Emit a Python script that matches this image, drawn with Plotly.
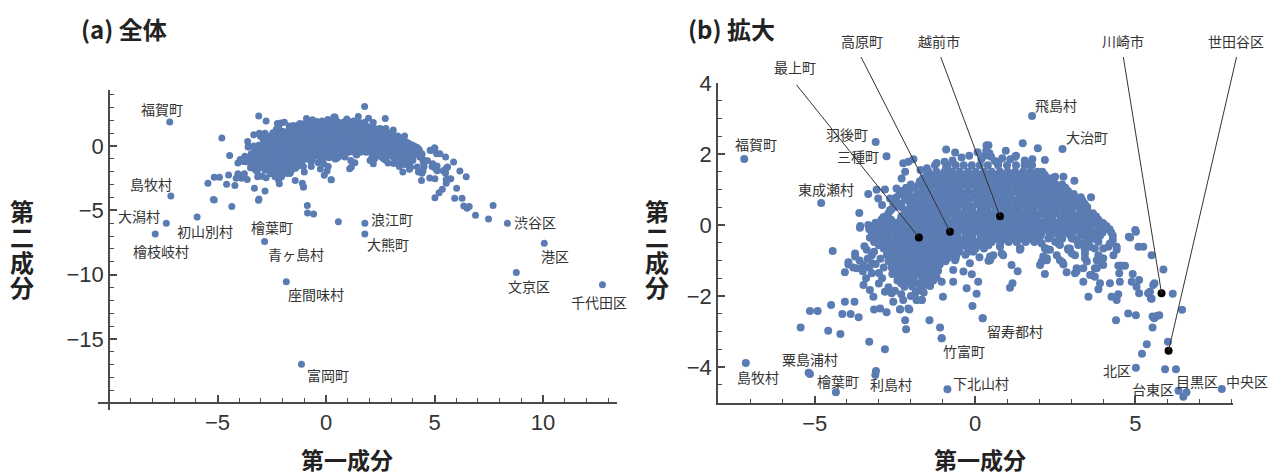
import plotly.graph_objects as go

# ---- municipalities: first and second principal component ----
ROW_PC2 = [1.68, 1.5, 1.32, 1.14, 0.96, 0.78, 0.6, 0.42, 0.24, 0.06, -0.12, -0.3, -0.48, -0.66, -0.84, -1.02, -1.2, -1.38, -1.56, -1.74]
ROW_PC1 = [
 [-0.85,-0.6,-0.35,-0.1,0.15,0.4,0.72,1.0,1.28,1.55,1.78],
 [-1.45,-1.2,-0.95,-0.72,-0.48,-0.22,0.02,0.28,0.52,0.78,1.02,1.25,1.5,1.72,1.95,2.1],
 [-1.62,-1.38,-1.15,-0.9,-0.68,-0.42,-0.18,0.08,0.3,0.58,0.82,1.08,1.3,1.55,1.78,2.0,2.22,2.38],
 [-2.0,-1.75,-1.5,-1.28,-1.02,-0.8,-0.55,-0.32,-0.08,0.18,0.42,0.65,0.9,1.15,1.38,1.62,1.85,2.08,2.3,2.52,2.72],
 [-2.3,-2.05,-1.65,-1.4,-1.15,-0.92,-0.7,-0.45,-0.2,0.05,0.28,0.52,0.78,1.0,1.25,1.5,1.72,1.98,2.2,2.42,2.65,2.9],
 [-2.45,-2.2,-1.92,-1.72,-1.5,-1.25,-1.02,-0.8,-0.55,-0.32,-0.08,0.15,0.4,0.65,0.88,1.12,1.38,1.6,1.85,2.08,2.32,2.55,2.78,3.02,3.3],
 [-2.55,-2.3,-2.02,-1.82,-1.6,-1.38,-1.12,-0.9,-0.65,-0.42,-0.2,0.05,0.28,0.52,0.75,1.0,1.25,1.48,1.72,1.95,2.2,2.42,2.68,2.92,3.15,3.42],
 [-2.62,-2.1,-1.9,-1.72,-1.48,-1.25,-1.0,-0.78,-0.55,-0.3,-0.08,0.18,0.4,0.65,0.88,1.12,1.35,1.6,1.82,2.08,2.3,2.55,2.78,3.02,3.28,3.5],
 [-2.8,-2.3,-2.05,-1.82,-1.6,-1.35,-1.12,-0.9,-0.65,-0.42,-0.18,0.05,0.3,0.52,0.78,1.0,1.25,1.48,1.72,1.95,2.2,2.42,2.68,2.9,3.15,3.38,3.6,3.78],
 [-3.1,-2.78,-2.48,-2.18,-1.95,-1.72,-1.48,-1.25,-1.0,-0.78,-0.55,-0.3,-0.08,0.18,0.4,0.65,0.88,1.12,1.35,1.6,1.82,2.08,2.3,2.55,2.78,3.02,3.25,3.5,3.72,3.95],
 [-3.3,-3.05,-2.8,-2.55,-2.3,-2.05,-1.82,-1.6,-1.35,-1.12,-0.9,-0.65,-0.42,-0.18,0.05,0.3,0.52,0.78,1.0,1.25,1.48,1.72,1.95,2.2,2.42,2.65,2.9,3.12,3.38,3.6,3.85,4.05,4.2],
 [-3.2,-2.95,-2.68,-2.42,-2.18,-1.95,-1.72,-1.48,-1.25,-1.0,-0.78,-0.55,-0.3,-0.08,0.18,0.4,0.65,0.88,1.12,1.35,1.6,1.82,2.05,2.35,2.62,3.0,3.32,3.62,3.9,4.3],
 [-3.15,-2.88,-2.62,-2.35,-2.1,-1.85,-1.6,-1.38,-1.12,-0.9,-0.65,-0.42,-0.18,0.05,0.3,0.52,0.8,1.05,1.3,1.58,1.85,2.58,3.22],
 [-2.85,-2.6,-2.38,-2.12,-1.88,-1.65,-1.4,-1.18,-0.95,-0.7,-0.48,-0.22,0.02,0.28,1.42,2.22,2.9,3.42],
 [-2.75,-2.5,-2.28,-2.02,-1.78,-1.55,-1.3,-1.05,-0.82,-0.58,-0.3],
 [-2.7,-2.42,-2.18,-1.92,-1.68,-1.42,-1.18,-0.92],
 [-2.6,-2.35,-2.1,-1.85,-1.58,-1.32],
 [-2.58,-2.3,-2.05,-1.78,-1.52,-1.28],
 [-2.42,-2.15,-1.9,-1.62,-1.3],
 [-2.2,-1.95,-1.62],
]
MID_PC2 = [1.41, 1.23, 1.05, 0.87, 0.69, 0.51, 0.33, 0.15, -0.03, -0.21, -0.39, -0.57, -0.75, -0.93, -1.11, -1.29, -1.47, -1.65]
MID_PC1 = [
 [-1.5,-1.28,-1.02,-0.82,-0.58,-0.35,-0.08,0.15,0.4,0.65,0.9,1.12,1.38,1.6,1.85,2.18],
 [-1.72,-1.5,-1.25,-1.02,-0.78,-0.55,-0.3,-0.05,0.2,0.45,0.7,0.95,1.18,1.42,1.68,1.9,2.12,2.32,2.45],
 [-2.15,-1.88,-1.62,-1.4,-1.15,-0.92,-0.68,-0.45,-0.2,0.05,0.3,0.55,0.78,1.02,1.28,1.5,1.75,1.98,2.2,2.42,2.62,2.82],
 [-2.35,-2.12,-1.8,-1.52,-1.28,-1.05,-0.82,-0.58,-0.32,-0.08,0.18,0.4,0.65,0.9,1.12,1.38,1.62,1.85,2.1,2.32,2.55,2.78,3.08],
 [-2.5,-2.08,-1.82,-1.6,-1.38,-1.15,-0.9,-0.68,-0.42,-0.2,0.05,0.28,0.52,0.78,1.0,1.25,1.5,1.72,1.98,2.2,2.45,2.68,2.92,3.15,3.35],
 [-2.5,-2.0,-1.72,-1.5,-1.25,-1.02,-0.78,-0.55,-0.3,-0.08,0.18,0.4,0.65,0.88,1.12,1.38,1.6,1.85,2.08,2.32,2.55,2.8,3.05,3.28,3.5],
 [-2.7,-2.2,-1.95,-1.7,-1.48,-1.22,-1.0,-0.78,-0.52,-0.3,-0.05,0.18,0.42,0.65,0.9,1.12,1.38,1.6,1.85,2.08,2.32,2.55,2.8,3.02,3.28,3.5,3.68],
 [-2.92,-2.62,-2.32,-2.08,-1.85,-1.6,-1.38,-1.12,-0.9,-0.65,-0.42,-0.2,0.05,0.28,0.52,0.75,1.0,1.22,1.48,1.72,1.95,2.2,2.42,2.68,2.9,3.15,3.38,3.62,3.85],
 [-3.2,-2.92,-2.65,-2.4,-2.15,-1.92,-1.68,-1.42,-1.2,-0.95,-0.72,-0.48,-0.25,0.0,0.22,0.48,0.7,0.95,1.18,1.42,1.68,1.9,2.15,2.38,2.62,2.88,3.12,3.35,3.6,3.85,4.1],
 [-3.22,-2.98,-2.72,-2.45,-2.22,-1.98,-1.72,-1.5,-1.25,-1.02,-0.78,-0.55,-0.3,-0.05,0.18,0.42,0.65,0.9,1.12,1.38,1.6,1.85,2.08,2.32,2.58,2.8,3.05,3.28,3.52,3.75,3.98,4.25],
 [-3.1,-2.8,-2.55,-2.28,-2.02,-1.78,-1.52,-1.28,-1.05,-0.8,-0.55,-0.32,-0.08,0.18,0.42,0.68,0.92,1.18,1.45,1.72,2.0,2.72,3.1,3.48,3.72],
 [-3.0,-2.75,-2.5,-2.25,-2.0,-1.75,-1.52,-1.28,-1.05,-0.82,-0.58,-0.35,-0.1,0.15,0.42],
 [-2.72,-2.42,-2.2,-1.95,-1.7,-1.48,-1.22,-1.0,-0.75,-0.5,-0.2,-0.05],
 [-2.65,-2.4,-2.12,-1.88,-1.62,-1.38,-1.1,-0.85,-0.6],
 [-2.55,-2.28,-2.02,-1.75,-1.5,-1.25,-1.1],
 [-2.45,-2.18,-1.95,-1.68,-1.42,-1.15],
 [-2.4,-2.18,-1.92,-1.65,-1.4,-1.2],
 [-2.3,-2.02,-1.75,-1.5],
]
EDGE_PC1 = [-3.61,-3.58,-3.33,-3.07,-2.81,-2.45,-3.02,-2.65,-2.9,-2.65,-2.29,-2.86,-2.29,-2.18,-2.24,-2.08,-1.92,-3.33,-3.02,-3.74,-3.38,-3.74,-3.95,-4.06,-3.69,-3.48,-3.22,-3.22,-3.22,-3.48,-3.28,-3.17,-2.81,-2.55,-2.6,-2.24,-2.08,-2.34,-1.82,-1.66,-1.0,-1.72,-1.4,-1.04,-0.68,-0.68,-0.36,-0.1,0.1,-0.26,0.05,-0.08,0.14,-0.62,-0.16,-3.59,-3.28,0.42,0.73,0.96,1.25,1.79,2.18,2.5,2.76,3.1,3.62,3.33,4.0,5.0,0.52,0.83,1.25,1.61,1.4,0.78,0.88,0.52,0.47,1.98,2.29,2.6,2.24,2.08,2.24,2.65,2.76,3.02,3.33,3.64,3.22,3.02,2.91,3.43,3.74,4.0,3.64,3.8,4.0,4.16,4.42,4.32,4.68,3.17,3.38,3.85,3.43,2.5,2.8,3.54,4.8,4.3,4.52,4.5,4.52]
EDGE_PC2 = [0.34,-0.03,0.87,0.99,1.0,1.03,0.75,0.75,0.56,0.42,0.5,0.22,1.31,1.5,1.74,1.78,1.85,0.0,0.05,-0.8,-0.7,-0.89,-1.11,-1.33,-1.22,-1.13,-0.85,-1.08,-1.36,-1.69,-1.83,-2.02,-1.88,-2.16,-1.92,-2.11,-2.35,-2.37,-2.11,-2.11,-2.02,-1.83,-1.72,-1.6,-1.6,-1.27,-1.31,-1.39,-1.6,-1.78,-1.94,-2.28,-0.91,-0.99,-1.08,-0.08,-0.36,2.25,1.78,2.09,1.92,1.85,1.83,1.36,1.36,1.25,0.78,0.61,0.05,-0.14,-0.28,-0.19,-0.14,-0.42,-0.66,-0.61,-0.85,-0.89,-0.99,-0.42,-0.38,-0.52,-0.7,-1.03,-0.94,-0.99,-1.11,-0.38,-0.28,-0.19,-0.56,-0.8,-0.7,-0.94,-0.66,-0.94,-1.41,-1.22,-1.13,-0.61,-0.61,-0.85,-1.15,-1.22,-1.22,-0.47,-0.7,-0.23,-0.09,-0.52,-0.33,-0.42,-1.6,-1.36,-1.15]
SPARSE_PC1 = [-0.9,-0.62,0.36,1.49,1.96,1.14,1.33,1.17,1.09,2.18,2.86,3.12,3.38,3.54,3.85,3.9,4.21,4.89,4.92,5.12,5.04,5.12,4.26,4.42,4.47,4.78,5.02,4.4,5.4,5.51,5.56,5.54,5.54,5.88,6.17,6.46,5.67,5.59,5.75,5.36,5.21,6.02,5.93,6.27,5.49,5.6,5.46,5.51,5.1,5.25,4.84,5.02,6.89,7.49,6.5,-4.44,-5.44,-4.58,-4.2,-3.3,-2.81,-2.18,-2.15,-1.42,-1.09,-1.04,-5.15,-4.91,-4.49,-4.06,-3.76,-4.14,-3.88,-3.63,-3.15,-2.96,-2.76,-2.34,-2.05,-1.82,-1.66,0.24,-0.85,-0.57,0.57,-5.15,-3.11]
SPARSE_PC2 = [2.13,2.04,2.25,2.3,2.16,-1.13,-1.3,-1.64,-1.77,-1.38,-1.33,-1.36,-1.6,-2.02,-1.81,-1.64,-1.64,-1.6,-1.38,-1.55,-1.74,-1.92,-2.02,-2.11,-1.95,-2.49,-2.54,-2.68,-1.92,-2.08,-1.69,-2.58,-2.89,-1.25,-1.94,-2.39,-2.56,-2.63,-2.54,-3.36,-3.63,-3.29,-4.06,-4.06,-2.07,-1.64,-1.88,-0.85,-0.61,-0.61,-0.35,-0.19,-5.39,-5.67,-4.84,-0.73,-2.89,-2.98,-3.07,-3.29,-3.5,-2.68,-2.94,-2.68,-2.89,-3.19,-2.42,-2.42,-2.25,-2.16,-2.16,-2.51,-2.51,-2.6,-2.38,-2.35,-2.46,-2.38,-2.38,-2.11,-2.11,-2.63,-5.2,-5.28,-5.88,-4.2,-4.22]
TOP_PC1 = [-1.7,-1.5,-1.2,-0.95,-0.7,-0.42,-0.18,0.08,0.2,0.35,0.5,0.62,0.85,1.1,1.28,1.55,1.7,0.3,0.45,-1.25,-0.9]
TOP_PC2 = [1.55,1.6,1.75,1.78,1.82,1.9,1.95,2.05,1.85,2.1,1.92,1.8,1.88,1.85,1.95,1.82,1.72,1.95,2.02,1.68,1.62]
STRAND_PC1 = [0.94,1.14,1.3,1.56,1.4,0.78,0.83,0.47,0.57,0.42,1.87,2.08,2.18,2.34,2.13,2.03,2.24,2.5,2.65,2.55,2.73,2.96,3.17,3.43,3.59,2.96,3.12,3.43,3.49,3.8,3.95,3.74,3.59,3.74,4.0,4.21,4.42,3.85,4.47,4.58,3.17]
STRAND_PC2 = [-0.14,-0.38,-0.47,-0.38,-0.7,-0.56,-0.8,-0.89,-0.85,-1.01,-0.38,-0.52,-0.66,-0.7,-0.89,-1.13,-0.99,-0.47,-0.56,-0.85,-1.05,-0.28,-0.42,-0.52,-0.61,-0.66,-0.85,-0.8,-1.03,-0.99,-1.08,-1.22,-1.41,-1.46,-0.66,-0.52,-0.7,-0.85,-1.15,-1.15,-1.31]
LOBE_PC1 = [-3.95,-3.8,-3.6,-3.5,-3.35,-3.3,-3.1,-3.0,-3.45,-3.15,-2.95,-2.85,-2.9,-3.0,-3.4,-2.7,-2.5,-2.3,-2.0,-1.85,-1.6]
LOBE_PC2 = [-1.05,-1.2,-1.0,-1.3,-0.95,-1.2,-1.1,-1.35,-0.6,-0.75,-0.95,-1.2,-1.5,-1.65,-1.5,-1.75,-1.85,-1.95,-2.0,-1.9,-1.9]

NAMED = ["福賀町","羽後町","三種町","東成瀬村","飛島村","大治町","島牧村","粟島浦村","檜葉町","利島村","下北山村","竹富町","留寿都村","北区","台東区","目黒区","中央区",
         "大潟村","初山別村","檜枝岐村","青ヶ島村","座間味村","浪江町","大熊町","富岡町","渋谷区","港区","文京区","千代田区"]
NAMED_PC1 = [-7.2,-3.1,-2.76,-4.8,1.78,2.73,-7.15,-5.19,-4.34,-3.09,-0.86,-1.04,0.24,5.02,6.35,6.6,7.7,
             -7.36,-5.94,-7.87,-2.83,-1.83,1.79,1.79,-1.13,8.36,10.06,8.77,12.74]
NAMED_PC2 = [1.86,2.34,1.94,0.62,3.07,2.14,-3.89,-4.16,-4.71,-4.11,-4.63,-3.19,-2.63,-4.02,-4.67,-4.71,-4.62,
             -6.0,-5.52,-6.84,-7.43,-10.54,-6.01,-6.84,-16.96,-6.01,-7.56,-9.82,-10.78]

LEADER_NAMES = ["最上町","高原町","越前市","川崎市","世田谷区"]
LEADER_PC1 = [-1.75,-0.78,0.78,5.82,6.04]
LEADER_PC2 = [-0.35,-0.19,0.25,-1.92,-3.54]

TICKS_A_X = [-5, 0, 5, 10]
TICKS_A_Y = [-15, -10, -5, 0]
TICKS_B_X = [-5, 0, 5]
TICKS_B_Y = [-4, -2, 0, 2, 4]

pc1, pc2 = [], []
for rows_y, rows_x in ((ROW_PC2, ROW_PC1), (MID_PC2, MID_PC1)):
    for y, xs in zip(rows_y, rows_x):
        pc1 += xs
        pc2 += [y] * len(xs)
pc1 += EDGE_PC1 + SPARSE_PC1 + TOP_PC1 + STRAND_PC1 + LOBE_PC1 + NAMED_PC1
pc2 += EDGE_PC2 + SPARSE_PC2 + TOP_PC2 + STRAND_PC2 + LOBE_PC2 + NAMED_PC2

W, H = 1270, 475
BLUE = "#5A7CB2"
AXIS = "#4a4a4a"
TXT = "#333333"
CJK = "Noto Sans CJK JP"
px = lambda v: v / W
py = lambda v: 1 - v / H

fig = go.Figure()
fig.add_trace(go.Scatter(x=pc1, y=pc2, mode="markers", xaxis="x", yaxis="y",
                         marker=dict(color=BLUE, size=7), hoverinfo="skip", showlegend=False))
fig.add_trace(go.Scatter(x=pc1, y=pc2, mode="markers", xaxis="x2", yaxis="y2",
                         marker=dict(color=BLUE, size=8), hoverinfo="skip", showlegend=False))
fig.add_trace(go.Scatter(x=LEADER_PC1, y=LEADER_PC2, mode="markers", xaxis="x2", yaxis="y2",
                         marker=dict(color="black", size=8), hoverinfo="skip", showlegend=False))

def axis(ticks, minor, **kw):
    return dict(tickmode="array", tickvals=ticks, ticks="inside", ticklen=7, tickwidth=1.5, tickcolor=AXIS,
                showline=True, linecolor=AXIS, linewidth=1.5, showgrid=False, zeroline=False, automargin=False,
                tickfont=dict(family="Liberation Sans", size=22, color=TXT),
                minor=dict(tickmode="linear", tick0=0, dtick=minor, ticks="inside", ticklen=4,
                           tickwidth=1.2, tickcolor=AXIS, showgrid=False),
                **kw)

xa = 326; ka = 21.7; ya = 146; la = 12.87
xb = 975; kb = 32.05; yb = 225; lb = 35.5
layout = dict(
    width=W, height=H, autosize=False, margin=dict(l=0, r=0, t=0, b=0, autoexpand=False),
    paper_bgcolor="white", plot_bgcolor="rgba(0,0,0,0)", showlegend=False,
    xaxis=axis(TICKS_A_X, 1, domain=[px(98), px(617)], range=[(98-xa)/ka, (617-xa)/ka],
               anchor="free", position=py(403)),
    yaxis=axis(TICKS_A_Y, 1, domain=[py(410), py(90)], range=[(ya-410)/la, (ya-90)/la],
               anchor="free", position=px(109)),
    xaxis2=axis(TICKS_B_X, 1, domain=[px(718), px(1233)], range=[(718-xb)/kb, (1233-xb)/kb],
                anchor="y2"),
    yaxis2=axis(TICKS_B_Y, 0.5, domain=[py(403), py(83)], range=[(yb-403)/lb, (yb-83)/lb],
                anchor="x2"),
)

ann = []
def text(t, x, y, size=14, bold=False, color=TXT, anchor="center"):
    ann.append(dict(text=f"<b>{t}</b>" if bold else t, x=px(x), y=py(y), xref="paper", yref="paper",
                    showarrow=False, xanchor=anchor, yanchor="middle",
                    font=dict(family=CJK, size=size, color=color)))

text("(a) 全体", 79, 28, size=24, bold=True, color="#222222", anchor="left")
text("(b) 拡大", 686, 28, size=24, bold=True, color="#222222", anchor="left")
for cx in (347, 980):
    text("第一成分", cx, 458.5, size=23, bold=True, color="#222222")
for cx in (22, 657):
    for ch, cy in zip("第二成分", (210, 236, 261, 286)):
        text(ch, cx, cy, size=24, bold=True, color="#222222")

LABELS_A = ["福賀町","島牧村","大潟村","初山別村","檜枝岐村","檜葉町","青ヶ島村","浪江町","大熊町","渋谷区","港区","文京区","座間味村","千代田区","富岡町"]
LABEL_XY_A = [(162,109),(151,184),(139,216),(205,231),(161,251),(272,227),(296,254),(392,219),(388,244),(535,222),(555,256),(529,286),(316,294),(599,302),(328,375)]
for n, (x, y) in zip(LABELS_A, LABEL_XY_A):
    text(n, x, y)

LABELS_B = ["福賀町","羽後町","三種町","東成瀬村","飛島村","大治町","島牧村","粟島浦村","檜葉町","利島村","下北山村","竹富町","留寿都村","北区","台東区","目黒区","中央区"] + LEADER_NAMES
LABEL_XY_B = [(756,144),(847,134),(858,156),(826,189),(1056,105),(1087,137),(758,377),(810,359),(838,381),(891,384),(981,383),(964,351),(1015,331),(1117,370),(1153,389),(1197,381),(1247,381),
              (795,67),(862,41),(939,41),(1123,41),(1236,41)]
for n, (x, y) in zip(LABELS_B, LABEL_XY_B):
    text(n, x, y)

LEADER_TAILS = [(795,83),(860,55),(940,55),(1123,55),(1237,55)]
for v1, v2, (tx, ty) in zip(LEADER_PC1, LEADER_PC2, LEADER_TAILS):
    ann.append(dict(text=" ", x=v1, y=v2, xref="x2", yref="y2", showarrow=True, arrowhead=0,
                    arrowwidth=1, arrowcolor="#333333", standoff=0,
                    axref="pixel", ayref="pixel", ax=tx-(xb+kb*v1), ay=ty-(yb-lb*v2),
                    font=dict(size=1)))

fig.update_layout(annotations=ann, **layout)
fig.write_html("out.html", config={"displayModeBar": False},
               post_script="document.body.style.margin='0';document.body.style.overflow='hidden';")
